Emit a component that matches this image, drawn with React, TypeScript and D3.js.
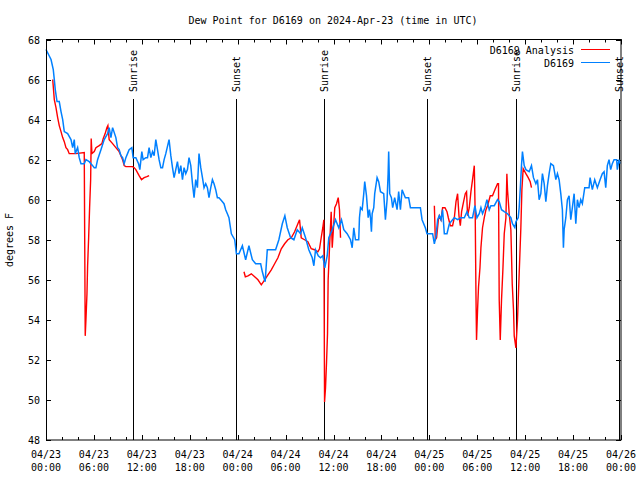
import React from "react";
import * as d3 from "d3";

const TITLE = "Dew Point for D6169 on 2024-Apr-23 (time in UTC)";
const Y_LABEL = "degrees F";
const START = "2024-04-23T00:00:00Z";
const END = "2024-04-26T00:00:00Z";
const Y_DOMAIN = [48, 68];
const Y_TICKS = [48, 50, 52, 54, 56, 58, 60, 62, 64, 66, 68];

const sunLabels = ["Sunrise", "Sunset", "Sunrise", "Sunset", "Sunrise", "Sunset"];
const sunTimes = [
  "2024-04-23T10:53:00Z",
  "2024-04-23T23:45:00Z",
  "2024-04-24T10:49:00Z",
  "2024-04-24T23:43:00Z",
  "2024-04-25T10:51:00Z",
  "2024-04-25T23:48:00Z",
];

// hours since 2024-04-23 00:00 UTC
const obsHours = [
  0.0, 0.63, 0.91, 1.04, 1.16, 1.38, 1.66, 1.88, 2.09, 2.29, 2.71, 3.13, 3.34, 3.54, 3.66, 3.96,
  4.16, 4.38, 4.79, 5.0, 5.41, 5.84, 6.04, 6.25, 6.46, 6.88, 7.29, 7.71, 7.91, 8.13, 8.34, 8.75,
  8.96, 9.16, 9.38, 9.59, 9.79, 10.0, 10.21, 10.41, 10.75, 10.91, 11.25, 11.59, 11.75, 12.0, 12.16,
  12.5, 12.71, 12.91, 13.13, 13.34, 13.54, 13.75, 13.96, 14.16, 14.38, 14.59, 14.79, 15.0, 15.41,
  15.63, 15.84, 16.04, 16.25, 16.46, 16.66, 16.88, 17.09, 17.29, 17.5, 17.71, 17.91, 18.13, 18.34,
  18.54, 18.75, 18.96, 19.16, 19.38, 19.59, 19.79, 20.0, 20.21, 20.41, 20.63, 20.84, 21.04, 21.25,
  21.46, 21.66, 21.88, 22.09, 22.29, 22.5, 22.71, 22.91, 23.21, 23.63, 23.75, 23.84, 24.16, 24.59,
  25.0, 25.41, 25.84, 26.25, 26.88, 27.09, 27.29, 27.44, 27.71, 28.75, 29.16, 29.59, 29.91, 30.21,
  30.63, 31.04, 31.46, 31.88, 32.09, 32.5, 32.91, 33.34, 33.54, 33.75, 34.09, 34.38, 34.66, 34.91,
  35.21, 35.41, 35.84, 36.25, 36.66, 37.0, 37.29, 37.71, 38.13, 38.34, 38.54, 38.75, 39.16, 39.25,
  39.38, 39.59, 39.79, 39.91, 40.13, 40.34, 40.5, 40.63, 40.75, 40.84, 41.04, 41.16, 41.46, 41.66,
  41.88, 42.29, 42.5, 42.71, 42.84, 42.91, 43.04, 43.25, 43.41, 43.66, 43.96, 44.16, 44.38, 44.59,
  44.79, 45.0, 45.41, 45.63, 46.88, 47.09, 47.5, 47.71, 48.41, 48.63, 48.84, 49.04, 49.25, 49.46,
  49.66, 49.88, 50.21, 50.5, 50.91, 51.13, 51.54, 51.96, 52.38, 52.71, 53.0, 53.41, 53.71, 53.96,
  54.25, 54.46, 54.66, 54.96, 55.21, 55.5, 55.71, 56.13, 56.54, 56.75, 57.04, 57.38, 57.79, 58.21,
  58.41, 58.71, 58.84, 59.13, 59.25, 59.38, 59.54, 59.66, 59.88, 60.09, 60.5, 60.79, 61.04, 61.34,
  61.54, 61.75, 61.96, 62.16, 62.38, 62.59, 62.79, 63.0, 63.21, 63.54, 63.84, 64.04, 64.25, 64.46,
  64.66, 64.79, 64.88, 65.09, 65.29, 65.5, 65.71, 65.91, 66.13, 66.34, 66.54, 66.75, 66.96, 67.16,
  67.46, 68.0, 68.13, 68.41, 68.71, 69.04, 69.38, 69.66, 69.88, 70.09, 70.29, 70.5, 70.71, 70.91,
  71.13, 71.46, 71.54, 71.75, 71.9,
];
const obsValues = [
  67.5, 67.0, 66.5, 66.0, 65.5, 64.9, 64.9, 64.4, 64.0, 63.4, 63.3, 63.0, 62.6, 63.0, 62.3, 62.6,
  62.1, 61.8, 61.8, 62.0, 61.9, 61.7, 61.6, 61.6, 62.0, 62.5, 63.0, 63.3, 63.6, 63.1, 63.6, 63.1,
  62.6, 62.5, 62.2, 62.1, 61.8, 62.1, 62.3, 62.5, 62.6, 62.1, 62.1, 61.8, 61.5, 62.4, 62.0,
  62.1, 62.1, 62.6, 62.1, 62.4, 62.2, 63.0, 62.5, 62.0, 61.6, 61.6, 62.0, 62.3, 63.0,
  62.2, 61.6, 61.1, 61.5, 61.9, 61.3, 61.7, 61.0, 61.6, 61.3, 61.5, 62.1, 61.7, 60.8,
  60.1, 61.0, 60.6, 62.3, 61.6, 61.1, 60.6, 60.8, 60.6, 60.1, 60.6, 61.0, 60.8, 60.5,
  60.1, 60.1, 60.0, 59.9, 59.8, 59.5, 59.3, 59.1, 58.3, 58.0, 57.6, 57.3, 57.3, 57.7,
  57.0, 57.7, 57.0, 56.8, 56.8, 56.4, 56.1, 55.9, 57.5, 57.5, 58.0, 58.8, 59.2, 58.6,
  58.1, 58.0, 58.5, 58.3, 58.6, 58.1, 57.5, 57.1, 56.7, 57.5, 57.2, 57.1, 57.2, 56.6,
  57.2, 58.1, 58.5, 59.0, 58.6, 59.0, 58.5, 58.3, 58.0, 57.6, 58.6, 58.0, 58.0, 59.1,
  59.6, 59.5, 60.3, 60.9, 60.2, 59.1, 59.5, 59.1, 58.4, 59.3, 59.6, 60.3, 61.1, 60.9,
  60.4, 60.3, 59.0, 60.0, 61.3, 62.4, 60.3, 60.1, 59.6, 60.1, 59.5, 60.4, 59.5, 60.5,
  60.3, 60.1, 60.1, 59.6, 59.6, 59.0, 58.6, 58.3, 58.3, 57.8, 58.2, 59.0, 59.2, 59.0,
  59.5, 58.3, 58.3, 58.8, 59.0, 59.1, 59.0, 59.1, 59.1, 59.4, 59.1, 59.1, 59.7, 59.1,
  59.3, 59.6, 59.3, 59.6, 60.0, 59.5, 59.7, 59.7, 60.0, 59.9, 59.5, 59.4, 59.3, 59.1,
  58.8, 58.6, 58.9, 59.1, 59.6, 60.5, 61.7, 62.4, 61.7, 61.5, 61.4, 61.7, 61.1, 60.8,
  61.0, 60.0, 60.3, 61.3, 60.8, 59.9, 60.7, 61.3, 61.8, 61.7, 61.0, 61.3, 61.0, 60.3,
  59.5, 57.6, 58.5, 59.1, 60.0, 60.2, 59.0, 59.6, 60.3, 58.8, 60.0, 59.6, 60.0, 59.8,
  60.6, 60.6, 61.1, 60.5, 61.0, 60.6, 61.0, 61.3, 61.4, 60.6, 61.7, 62.0, 61.5, 61.8,
  62.0, 62.0, 61.5, 62.0, 61.8,
];

// analysis series; NaN marks a gap in the record
const anaHours = [
  0.84, 1.04, 1.25, 1.46, 1.66, 1.88, 2.09, 2.29, 2.5, 2.71, 2.91, 3.75, 4.79, 4.85, 4.91, 5.0,
  5.13, 5.21, 5.34, 5.46, 5.59, 5.66, 5.75, 6.04, 6.25, 6.66, 7.0, 7.16, 7.41, 7.63, 7.75, 7.91,
  8.34, 8.75, 9.16, 9.38, 9.59, 9.79, 10.0, 10.84, 11.04, 11.25, 11.66, 11.96, 12.29, 12.63, 12.91,
  18.0,
  24.79, 24.96, 25.29, 25.71, 26.13, 26.54, 26.96, 27.38, 27.79, 28.21, 28.63, 29.04, 29.46, 29.88,
  30.29, 30.71, 31.13, 31.54, 31.75, 31.96, 32.38, 32.79, 33.21, 33.63, 34.04, 34.25, 34.46, 34.66,
  34.79, 34.88, 35.0, 35.13, 35.25, 35.33, 35.5, 35.71, 35.84, 36.16, 36.38, 36.59, 36.75, 36.88,
  42.0,
  48.63, 48.75, 48.91, 49.13, 49.25, 49.46, 49.66, 49.96, 50.21, 50.38, 50.63, 50.91, 51.13, 51.34,
  51.54, 51.71, 51.88, 52.04, 52.29, 52.5, 52.66, 52.79, 53.0, 53.21, 53.41, 53.63, 53.75, 53.84,
  53.91, 54.04, 54.16, 54.34, 54.46, 54.66, 54.88, 55.09, 55.29, 55.63, 55.91, 56.21, 56.54, 56.66,
  56.75, 56.88, 57.04, 57.21, 57.38, 57.59, 57.71, 57.79, 58.0, 58.21, 58.38, 58.54, 58.63, 58.84,
  59.04, 59.25, 59.46, 59.59, 59.75, 60.09, 60.38, 60.63, 60.79,
];
const anaValues = [
  66.0, 65.0, 64.6, 64.1, 63.7, 63.4, 63.1, 62.9, 62.6, 62.5, 62.3, 62.3, 62.35, 57.8, 53.2, 54.0,
  55.3, 56.7, 58.1, 59.6, 61.0, 63.05, 62.3, 62.4, 62.6, 62.7, 62.8, 63.05, 63.3, 63.6, 63.7, 63.0,
  62.8, 62.6, 62.4, 62.2, 62.0, 61.7, 61.65, 61.65, 61.6, 61.5, 61.2, 61.0, 61.1, 61.15, 61.2,
  NaN,
  56.4, 56.15, 56.2, 56.3, 56.15, 56.0, 55.75, 56.0, 56.25, 56.5, 56.8, 57.1, 57.55, 57.8,
  58.0, 58.1, 58.4, 58.8, 59.0, 58.1, 58.0, 57.9, 57.55, 57.5, 57.4, 57.55, 58.1, 58.6,
  59.0, 49.9, 50.6, 51.9, 53.3, 56.0, 57.6, 59.4, 57.6, 59.6, 59.8, 60.1, 59.5, 58.1,
  NaN,
  59.7, 58.0, 58.1, 59.0, 59.2, 59.0, 59.6, 59.6, 59.4, 59.1, 58.7, 58.7, 59.1, 59.9,
  60.3, 59.2, 58.7, 59.4, 59.9, 60.3, 60.4, 59.2, 59.6, 60.4, 61.0, 61.7, 59.1, 55.2,
  53.0, 54.5, 55.65, 56.6, 57.6, 58.6, 59.1, 59.5, 59.7, 60.2, 60.2, 60.5, 60.8, 60.8,
  55.0, 53.0, 55.0, 56.5, 58.3, 59.1, 61.3, 60.5, 59.3, 58.5, 55.8, 54.5, 53.2, 52.6,
  54.0, 56.3, 58.6, 60.5, 61.55, 61.3, 61.1, 60.9, 60.6,
];

const W = 640;
const H = 480;
const M = { left: 46, right: 621, top: 39.5, bottom: 440 };
const FONT = "'DejaVu Sans Mono', 'Liberation Mono', monospace";
const RED = "#ff0000";
const BLUE = "#0080ff";

export default function App() {
  const t0 = new Date(START);
  const t1 = new Date(END);
  const toDate = (h: number) => new Date(t0.getTime() + h * 3600 * 1000);

  const x = d3.scaleUtc().domain([t0, t1]).range([M.left, M.right]);
  const y = d3.scaleLinear().domain(Y_DOMAIN).range([M.bottom, M.top]);

  const majorTicks = d3.utcHour.every(6)!.range(t0, new Date(t1.getTime() + 1));
  const minorTicks = d3.utcHour.every(2)!.range(t0, new Date(t1.getTime() + 1));
  const fmtDate = d3.utcFormat("%m/%d");
  const fmtTime = d3.utcFormat("%H:%M");

  type P = { t: Date; v: number };
  const obs: P[] = obsHours.map((h, i) => ({ t: toDate(h), v: obsValues[i] }));
  const ana: P[] = anaHours.map((h, i) => ({ t: toDate(h), v: anaValues[i] }));

  const line = d3
    .line<P>()
    .defined((d) => !isNaN(d.v))
    .x((d) => x(d.t))
    .y((d) => y(d.v));

  return (
    <svg
      width={W}
      height={H}
      style={{ position: "absolute", left: 0, top: 0, background: "#fff" }}
      fontFamily={FONT}
      fontSize={10}
    >
      <rect x={0} y={0} width={W} height={H} fill="#fff" />
      <text x={333} y={24} textAnchor="middle">
        {TITLE}
      </text>
      <text transform={`translate(13,240) rotate(-90)`} textAnchor="middle">
        {Y_LABEL}
      </text>

      {/* y ticks */}
      {Y_TICKS.map((v) => (
        <g key={"y" + v}>
          <line x1={M.left} x2={M.left + 5} y1={Math.round(y(v)) + 0.5} y2={Math.round(y(v)) + 0.5} stroke="#000" />
          <line x1={M.right - 5} x2={M.right} y1={Math.round(y(v)) + 0.5} y2={Math.round(y(v)) + 0.5} stroke="#000" />
          <text x={40} y={y(v) + 4} textAnchor="end">
            {v}
          </text>
        </g>
      ))}

      {/* x ticks */}
      {minorTicks.map((t, i) => (
        <g key={"m" + i}>
          <line x1={Math.round(x(t)) + 0.5} x2={Math.round(x(t)) + 0.5} y1={M.bottom} y2={M.bottom - 3} stroke="#000" />
          <line x1={Math.round(x(t)) + 0.5} x2={Math.round(x(t)) + 0.5} y1={M.top} y2={M.top + 3} stroke="#000" />
        </g>
      ))}
      {majorTicks.map((t, i) => (
        <g key={"M" + i}>
          <line x1={Math.round(x(t)) + 0.5} x2={Math.round(x(t)) + 0.5} y1={M.bottom} y2={M.bottom - 5} stroke="#000" />
          <line x1={Math.round(x(t)) + 0.5} x2={Math.round(x(t)) + 0.5} y1={M.top} y2={M.top + 5} stroke="#000" />
          <text x={x(t)} y={458} textAnchor="middle">
            {fmtDate(t)}
          </text>
          <text x={x(t)} y={471} textAnchor="middle">
            {fmtTime(t)}
          </text>
        </g>
      ))}

      {/* sunrise / sunset */}
      {sunTimes.map((s, i) => {
        const sx = Math.round(x(new Date(s))) + 0.5;
        return (
          <g key={"s" + i}>
            <line x1={sx} x2={sx} y1={99} y2={M.bottom} stroke="#000" strokeWidth={1} />
            <text transform={`translate(${sx + 3.5},92) rotate(-90)`} textAnchor="start">
              {sunLabels[i]}
            </text>
          </g>
        );
      })}

      <path d={line(ana) || ""} fill="none" stroke={RED} strokeWidth={1.4} />
      <path d={line(obs) || ""} fill="none" stroke={BLUE} strokeWidth={1.5} />

      {/* frame */}
      <rect
        x={M.left + 0.5}
        y={M.top}
        width={M.right - M.left - 0.5}
        height={M.bottom - M.top}
        fill="none"
        stroke="#000"
      />

      {/* legend */}
      <text x={574} y={54} textAnchor="end">
        D6169 Analysis
      </text>
      <line x1={581} x2={610} y1={49.5} y2={49.5} stroke={RED} strokeWidth={1} />
      <text x={574} y={67} textAnchor="end">
        D6169
      </text>
      <line x1={581} x2={610} y1={62.5} y2={62.5} stroke={BLUE} strokeWidth={1} />
    </svg>
  );
}
